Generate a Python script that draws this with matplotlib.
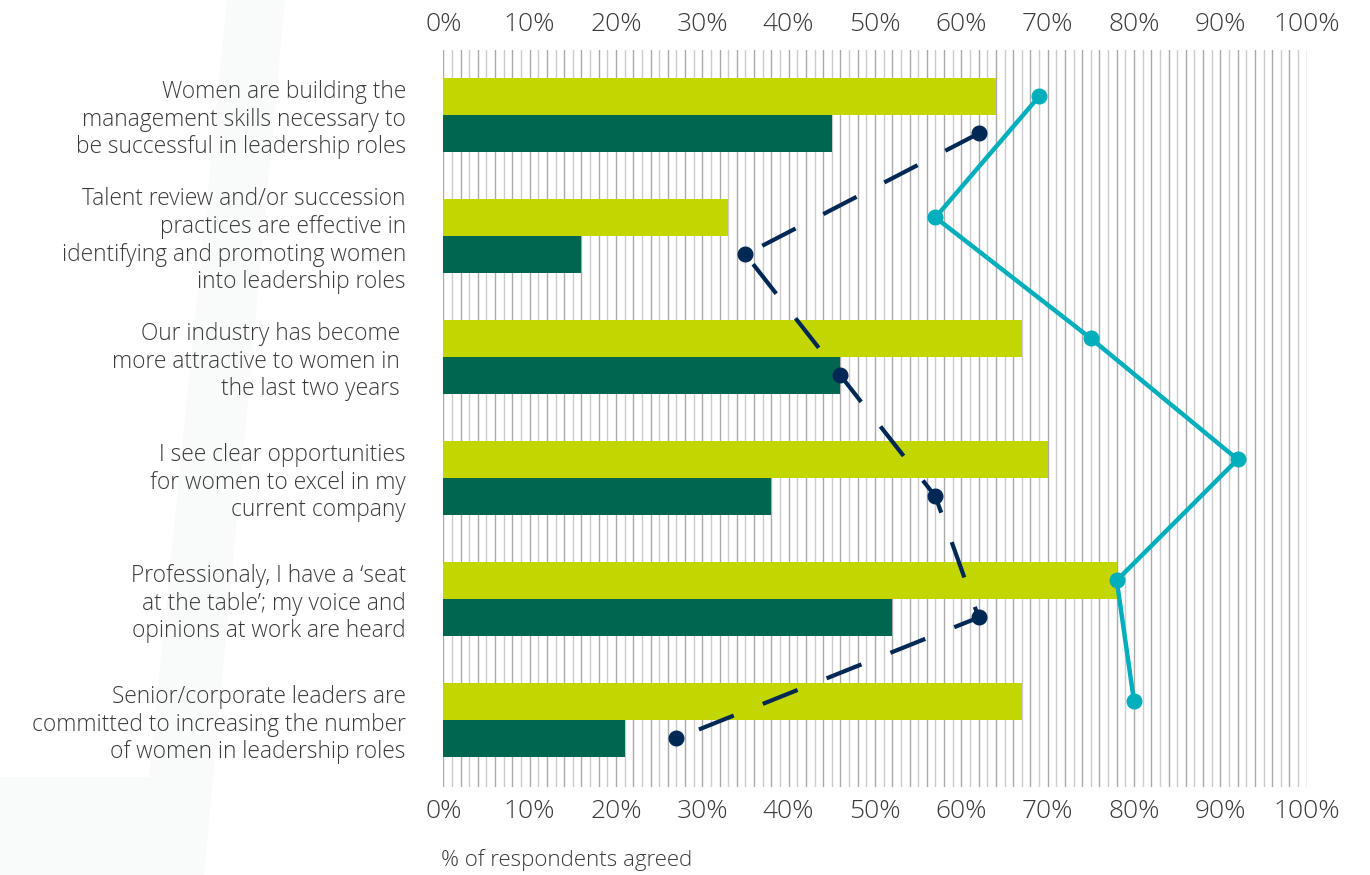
import matplotlib
matplotlib.use("Agg")
import matplotlib.pyplot as plt
from matplotlib.patches import Polygon
import numpy as np

# Survey statements
categories = [
    "Women are building the\nmanagement skills necessary to\nbe successful in leadership roles",
    "Talent review and/or succession\npractices are effective in\nidentifying and promoting women\ninto leadership roles",
    "Our industry has become \nmore attractive to women in \nthe last two years ",
    "I see clear opportunities\nfor women to excel in my\ncurrent company",
    "Professionaly, I have a \u2018seat\nat the table\u2019; my voice and\nopinions at work are heard",
    "Senior/corporate leaders are\ncommitted to increasing the number\nof women in leadership roles",
]

# % of respondents agreed
bars_light = [64, 33, 67, 70, 78, 67]
bars_dark = [45, 16, 46, 38, 52, 21]
line_teal = [69, 57, 75, 92, 78, 80]
line_navy = [62, 35, 46, 57, 62, 27]

xticks = list(range(0, 101, 10))
xtick_labels = [f"{t}%" for t in xticks]
xlabel = "% of respondents agreed"

LIGHT = "#C4D600"
DARK = "#00664F"
TEAL = "#00AFBB"
NAVY = "#002855"
TEXT = "#3a3a3a"

FONT = "Open Sans"
plt.rcParams["font.family"] = [FONT, "DejaVu Sans"]

W, H = 1370, 875
fig = plt.figure(figsize=(W / 100, H / 100), dpi=100)
fig.patch.set_facecolor("white")

# faint slash in the background, on its own axes underneath everything
bg = fig.add_axes([0, 0, 1, 1], zorder=-10)
bg.set_xlim(0, W)
bg.set_ylim(H, 0)
bg.axis("off")
bg.add_patch(Polygon(
    [(227, 0), (285, 0), (204, H), (0, H), (0, 777), (149, 777)],
    closed=True, facecolor="#f9fafa", edgecolor="none"))

ax = fig.add_axes([443.3 / W, 1 - 787 / H, 863.4 / W, 737 / H])
ax.set_facecolor("none")
ax.set_xlim(0, 100)
ax.set_ylim(5.554, -0.537)

# fine 1% vertical grid
for v in range(0, 101):
    col = "#a9a9a9" if v % 2 == 0 else "#cbcbcb"
    ax.axvline(v, color=col, lw=1.0, zorder=1)

y = np.arange(len(categories))
off = 0.153
bh = 0.306
ax.barh(y - off, bars_light, height=bh, color=LIGHT, zorder=2)
ax.barh(y + off, bars_dark, height=bh, color=DARK, zorder=2)

ax.plot(line_teal, y - off, color=TEAL, lw=3.2, marker="o", ms=10.5,
        solid_capstyle="butt", zorder=4)
ax.plot(line_navy, y + off, color=NAVY, lw=3.0, marker="o", ms=10.5,
        dashes=(9, 7.5), dash_capstyle="butt", zorder=3)

for s in ax.spines.values():
    s.set_visible(False)

ax.set_yticks(y)
ax.set_yticklabels(categories, fontsize=16.4, color=TEXT, linespacing=1.2,
                   ha="right", fontweight="light")
ax.tick_params(axis="y", length=0, pad=27)

ax.set_xticks(xticks)
ax.set_xticklabels(xtick_labels, fontsize=19, color=TEXT, fontweight="light")
ax.tick_params(axis="x", length=0, pad=9)

top = ax.secondary_xaxis("top")
top.set_xticks(xticks)
top.set_xticklabels(xtick_labels, fontsize=19, color=TEXT, fontweight="light")
top.tick_params(axis="x", length=0, pad=9)
for s in top.spines.values():
    s.set_visible(False)

fig.text(441 / W, 1 - 860 / H, xlabel, fontsize=16, color=TEXT,
         fontweight="light", ha="left", va="center")

fig.savefig("out.png", dpi=100, facecolor="white")
